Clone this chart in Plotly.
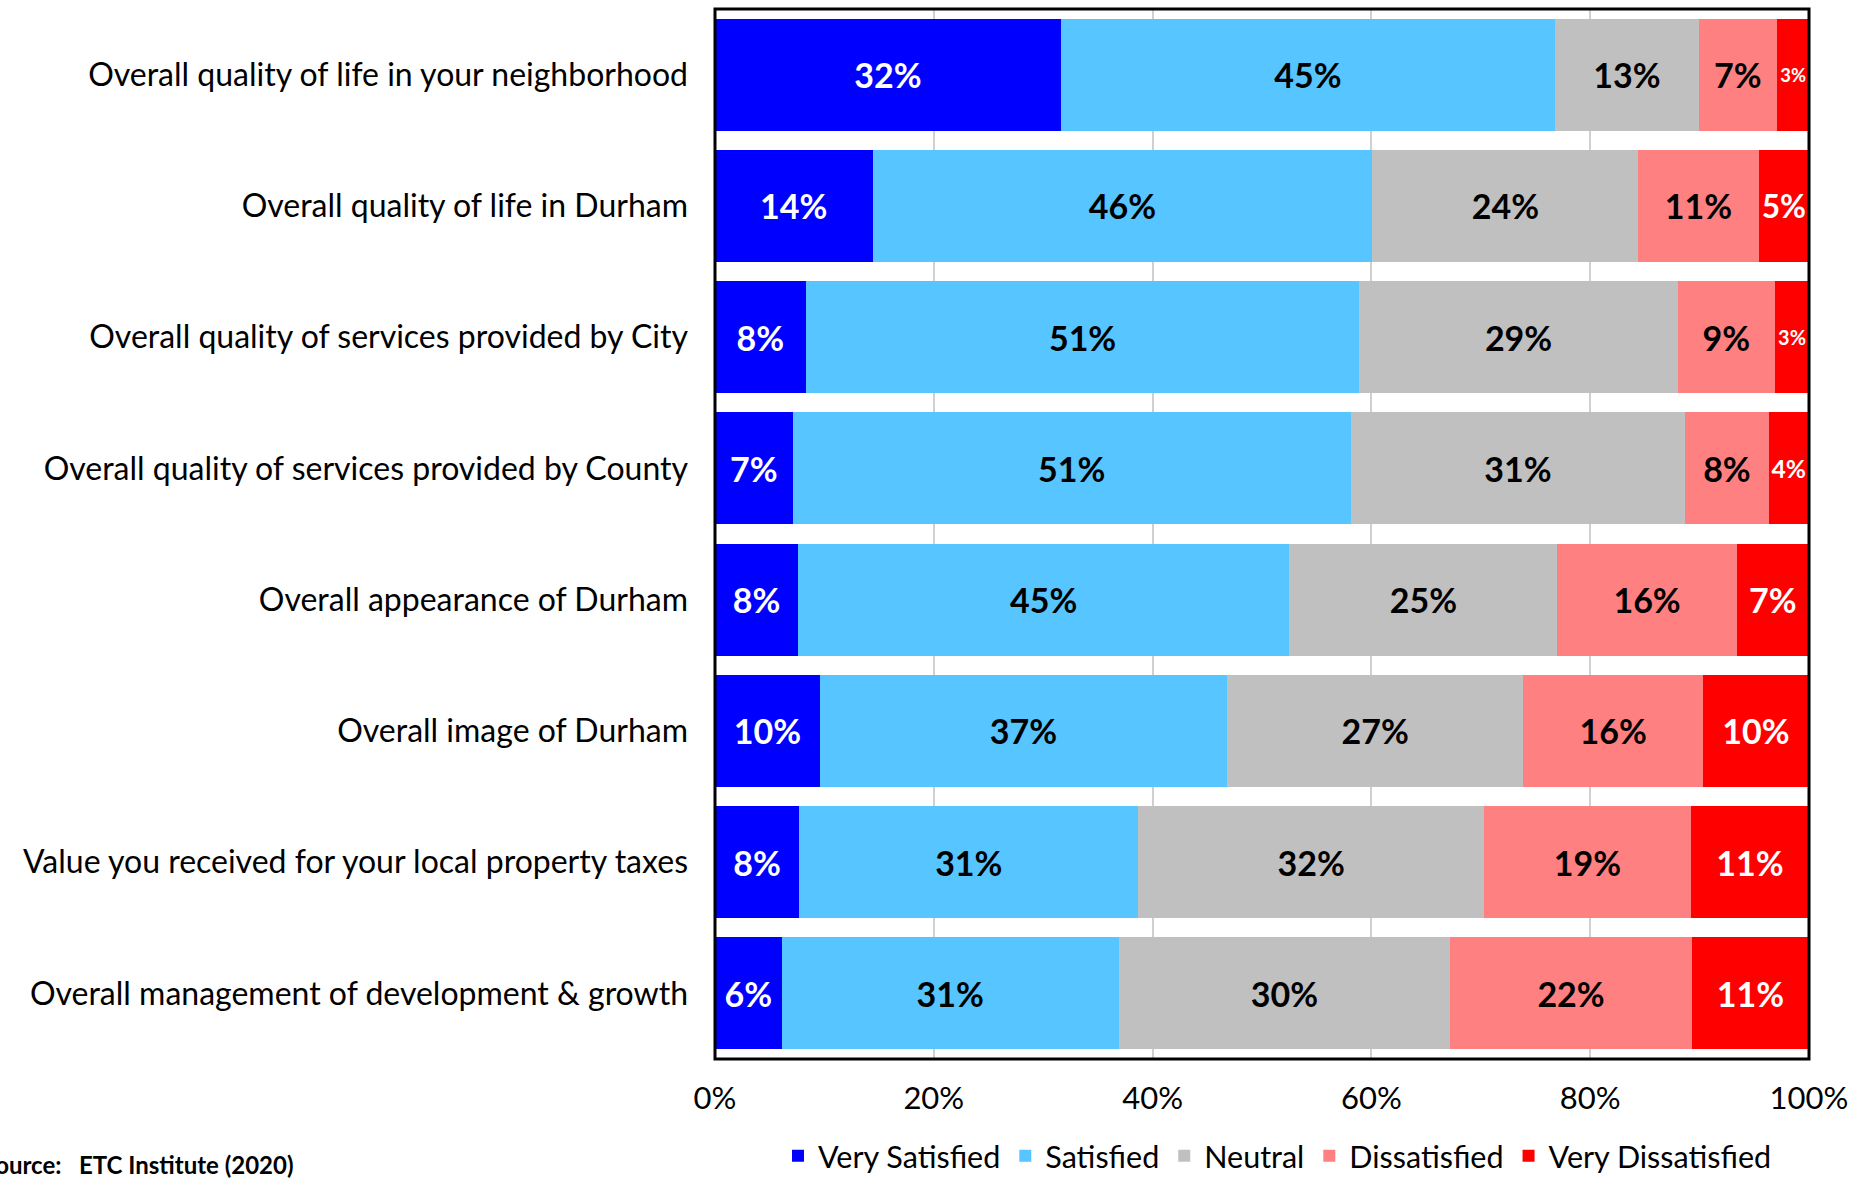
import plotly.graph_objects as go

categories = [
    "Overall quality of life in your neighborhood",
    "Overall quality of life in Durham",
    "Overall quality of services provided by City",
    "Overall quality of services provided by County",
    "Overall appearance of Durham",
    "Overall image of Durham",
    "Value you received for your local property taxes",
    "Overall management of development & growth",
]

very_satisfied    = [31.6, 14.4, 8.3, 7.1, 7.6, 9.6, 7.7, 6.1]
satisfied         = [45.2, 45.7, 50.6, 51.0, 44.9, 37.2, 31.0, 30.8]
neutral           = [13.1, 24.3, 29.1, 30.6, 24.5, 27.1, 31.6, 30.3]
dissatisfied      = [7.2, 11.0, 8.9, 7.6, 16.4, 16.4, 18.9, 22.1]
very_dissatisfied = [2.9, 4.6, 3.1, 3.7, 6.6, 9.7, 10.8, 10.7]

series_names = ["Very Satisfied", "Satisfied", "Neutral", "Dissatisfied", "Very Dissatisfied"]
series_values = [very_satisfied, satisfied, neutral, dissatisfied, very_dissatisfied]
colors = ["#0000FF", "#57C5FF", "#C0C0C0", "#FF8080", "#FF0000"]
text_colors = ["white", "black", "black", "black", "white"]

x_ticks = [0, 20, 40, 60, 80, 100]
x_tick_labels = ["0%", "20%", "40%", "60%", "80%", "100%"]

FONT = "Lato, 'Open Sans', sans-serif"

fig = go.Figure()
for name, vals, col, tcol in zip(series_names, series_values, colors, text_colors):
    fig.add_trace(go.Bar(
        y=categories, x=vals, name=name, orientation="h",
        marker=dict(color=col, line=dict(width=0)),
        texttemplate="%{x:.0f}%", textposition="inside",
        insidetextanchor="middle", textangle=0,
        textfont=dict(family=FONT, size=34, color=tcol, weight="bold"),
        hoverinfo="skip",
    ))

W, H = 1872, 1178
L, R, T, B = 715, 63, 9, 119
pw, ph = W - L - R, H - T - B

fig.update_layout(
    width=W, height=H,
    barmode="stack", bargap=0.147,
    margin=dict(l=L, r=R, t=T, b=B, autoexpand=False),
    plot_bgcolor="white", paper_bgcolor="white",
    font=dict(family=FONT, size=29, color="black"),
    xaxis=dict(range=[0, 100], tickvals=x_ticks, ticktext=x_tick_labels,
               showgrid=True, gridcolor="#D0D0D0", gridwidth=1.5,
               zeroline=False, ticks="", ticklabelstandoff=18,
               tickfont=dict(size=31), automargin=False),
    yaxis=dict(autorange="reversed", showgrid=False, ticks="",
               ticklabelstandoff=26, tickfont=dict(size=32), automargin=False),
    legend=dict(orientation="h", x=(778 - L) / pw, y=-(1156 - (H - B)) / ph,
                xanchor="left", yanchor="middle", font=dict(size=30.5),
                traceorder="normal", itemsizing="constant", bgcolor="rgba(0,0,0,0)"),
    shapes=[dict(type="rect", xref="paper", yref="paper", x0=0, x1=1, y0=0, y1=1,
                 line=dict(color="black", width=3), fillcolor="rgba(0,0,0,0)")],
    annotations=[dict(text="<b>Source:   ETC Institute (2020)</b>", xref="paper", yref="paper",
                      x=(-20 - L) / pw, y=-(1164 - (H - B)) / ph, xanchor="left",
                      yanchor="middle", showarrow=False, font=dict(size=24))],
)

fig.write_html("out.html")
